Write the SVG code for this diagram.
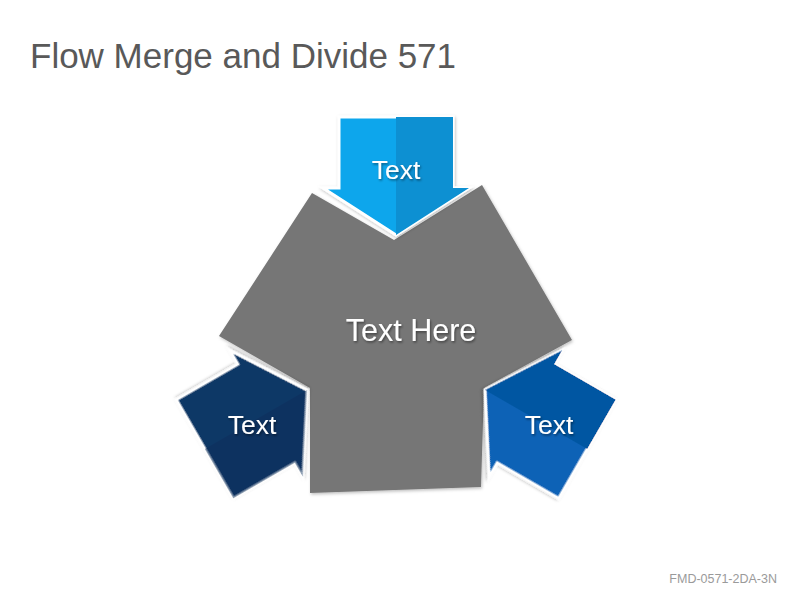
<svg xmlns="http://www.w3.org/2000/svg" width="800" height="600" viewBox="0 0 800 600">
<style>
.title{font-family:"Liberation Sans",Arial,sans-serif;font-size:35px;fill:#595959}
.lbl{font-family:"Liberation Sans",Arial,sans-serif;fill:#fff;text-anchor:middle;filter:url(#ts)}
.foot{font-family:"Liberation Sans",Arial,sans-serif;font-size:12.5px;fill:#9a9a9a;text-anchor:end}
.edge{stroke:#fff;stroke-width:3;stroke-linejoin:miter}
</style>
<defs>
<filter id="ts" x="-20%" y="-20%" width="140%" height="150%">
<feDropShadow dx="1" dy="1.5" stdDeviation="1" flood-color="#000" flood-opacity="0.45"/>
</filter>
<filter id="sh" x="-10%" y="-10%" width="120%" height="120%">
<feDropShadow dx="1" dy="1.5" stdDeviation="1.5" flood-color="#000" flood-opacity="0.25"/>
</filter>
<polygon id="arrow" points="-57,-118 57,-118 57,-47 73,-47 0,0 -73,-47 -57,-47"/>
<polygon id="halfR" points="0,-118 57,-118 57,-47 73,-47 0,0"/>
<polygon id="halfL" points="0,-118 -57,-118 -57,-47 -73,-47 0,0"/>
</defs>
<rect width="800" height="600" fill="#fff"/>
<text class="title" x="30" y="68">Flow Merge and Divide 571</text>

<g id="center">
<polygon filter="url(#sh)" fill="#767676" points="312,193 394,240 482,185 572,340 484,388 481,487 310,493 310,388 219,336"/>
<text class="lbl" x="411" y="341" font-size="30.5">Text Here</text>
</g>

<g id="connectors"></g>

<g id="arrow-top">
<g transform="translate(396,235)" filter="url(#sh)">
<use href="#arrow" fill="#0BA6EC" class="edge"/>
<use href="#halfR" fill="#0890D2"/>
</g>
<text class="lbl" x="396" y="179" font-size="26.5">Text</text>
</g>

<g id="arrow-left">
<g transform="translate(307,390) rotate(-120)" filter="url(#sh)">
<use href="#arrow" fill="#0B3766" class="edge"/>
<use href="#halfL" fill="#082D58" opacity="0.45"/>
</g>
<text class="lbl" x="252" y="434" font-size="26.5">Text</text>
</g>

<g id="arrow-right">
<g transform="translate(485,390) rotate(120)" filter="url(#sh)">
<use href="#arrow" fill="#0762B6" class="edge"/>
<use href="#halfL" fill="#0457A2"/>
</g>
<text class="lbl" x="549" y="434" font-size="26.5">Text</text>
</g>

<text class="foot" x="777" y="583">FMD-0571-2DA-3N</text>
</svg>
